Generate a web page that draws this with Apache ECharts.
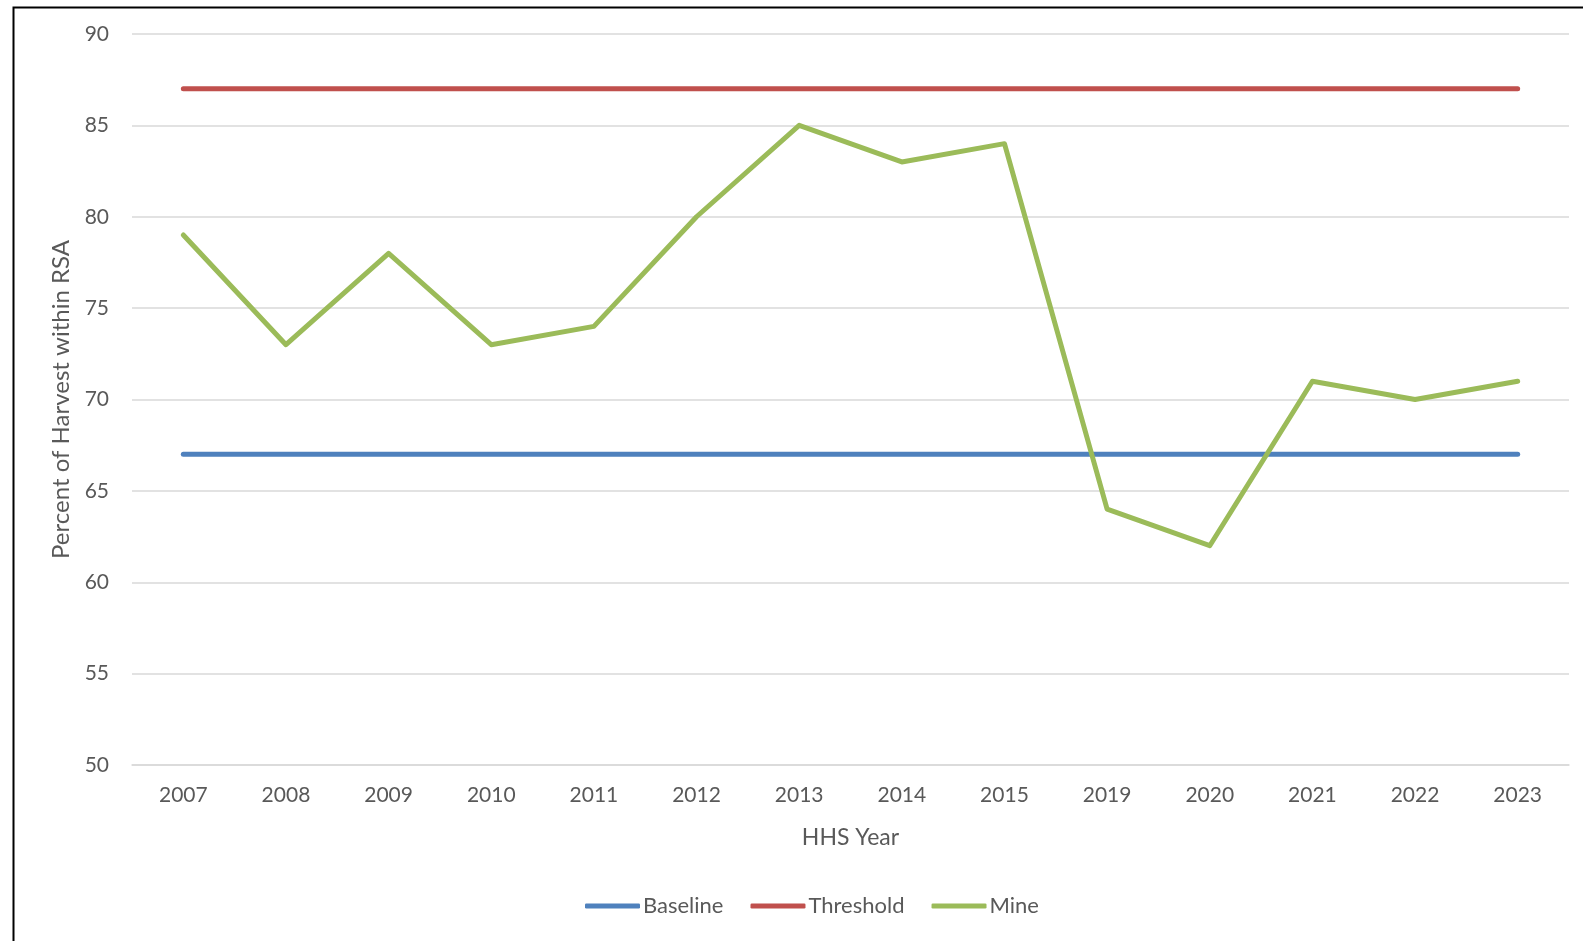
<!DOCTYPE html>
<html>
<head>
<meta charset="utf-8">
<script src="https://cdn.jsdelivr.net/npm/echarts@6/dist/echarts.min.js"></script>
<style>
  html, body { margin: 0; padding: 0; background: #ffffff; }
  #chart { width: 1583px; height: 941px; }
</style>
</head>
<body>
<div id="chart"></div>
<script>
// HHS years and harvest share within the RSA
const years = ['2007', '2008', '2009', '2010', '2011', '2012', '2013', '2014', '2015', '2019', '2020', '2021', '2022', '2023'];
const baseline = [67, 67, 67, 67, 67, 67, 67, 67, 67, 67, 67, 67, 67, 67];
const threshold = [87, 87, 87, 87, 87, 87, 87, 87, 87, 87, 87, 87, 87, 87];
const mine = [79, 73, 78, 73, 74, 80, 85, 83, 84, 64, 62, 71, 70, 71];

const FONT = 'Lato, "Open Sans", sans-serif';
const TEXT = '#595959';

function lineSeries(name, data, color) {
  return {
    name: name,
    type: 'line',
    data: data,
    symbol: 'none',
    color: color,
    lineStyle: { color: color, width: 5, cap: 'round', join: 'round' },
    emphasis: { disabled: true }
  };
}

const chart = echarts.init(document.getElementById('chart'), null, { renderer: 'canvas' });
chart.setOption({
  animation: false,
  backgroundColor: '#ffffff',
  textStyle: { fontFamily: FONT, color: TEXT },
  graphic: [{
    type: 'rect',
    left: 11, top: 5,
    shape: { width: 1700, height: 1100 },
    style: { fill: 'none', stroke: '#000000', lineWidth: 2 },
    silent: true, z: -1
  }],
  grid: { left: 132, right: 14, top: 34, bottom: 176 },
  legend: {
    bottom: 19,
    left: 580,
    icon: 'roundRect',
    itemWidth: 55,
    itemHeight: 5,
    itemGap: 27,
    textStyle: { fontFamily: FONT, fontSize: 22, color: TEXT, padding: [0, 0, 0, -2] },
    data: ['Baseline', 'Threshold', 'Mine']
  },
  xAxis: {
    type: 'category',
    data: years,
    boundaryGap: true,
    name: 'HHS Year',
    nameLocation: 'middle',
    nameGap: 61,
    nameTextStyle: { fontFamily: FONT, fontSize: 23, color: TEXT },
    axisLine: { show: true, lineStyle: { color: '#D9D9D9', width: 1.5 } },
    axisTick: { show: false },
    axisLabel: { fontFamily: FONT, fontSize: 21, color: TEXT, margin: 20 },
    splitLine: { show: false }
  },
  yAxis: {
    type: 'value',
    min: 50, max: 90, interval: 5,
    name: 'Percent of Harvest within RSA',
    nameLocation: 'middle',
    nameGap: 55,
    nameTextStyle: { fontFamily: FONT, fontSize: 24, color: TEXT },
    axisLine: { show: false },
    axisTick: { show: false },
    axisLabel: { fontFamily: FONT, fontSize: 21, color: TEXT, margin: 23 },
    splitLine: { lineStyle: { color: '#D9D9D9', width: 1.5 } }
  },
  series: [
    lineSeries('Baseline', baseline, '#4F81BD'),
    lineSeries('Threshold', threshold, '#C0504D'),
    lineSeries('Mine', mine, '#9BBB59')
  ]
});
</script>
</body>
</html>
